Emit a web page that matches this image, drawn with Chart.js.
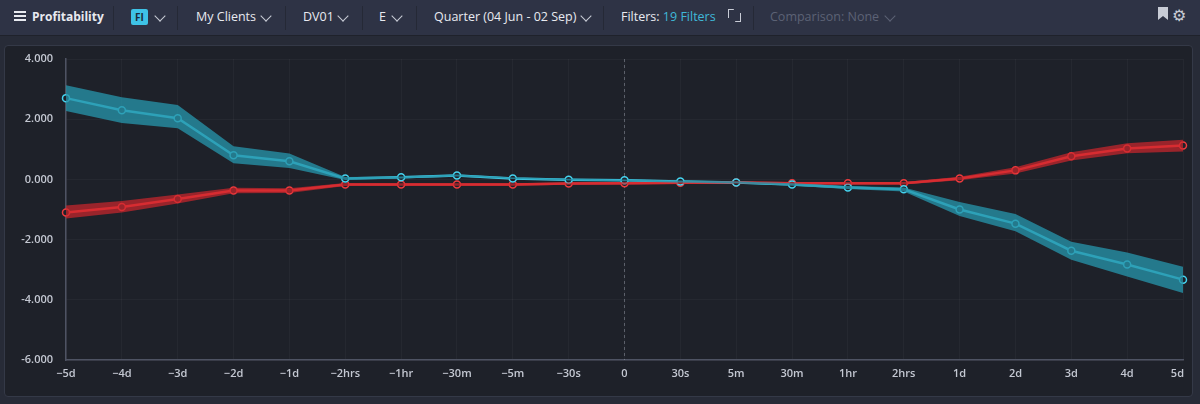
<!DOCTYPE html>
<html>
<head>
<meta charset="utf-8">
<script src="https://cdn.jsdelivr.net/npm/chart.js@4.4.1/dist/chart.umd.min.js"></script>
<style>
  html,body{margin:0;padding:0;width:1200px;height:404px;overflow:hidden;background:#272b37;font-family:"Open Sans","Noto Sans",sans-serif;}
  #bar{position:absolute;left:0;top:0;width:1200px;height:35px;background:#2e3345;border-bottom:1px solid #1f222b;}
  .it{position:absolute;top:0;height:35px;line-height:33px;font-size:12.5px;color:#e8eaf0;white-space:nowrap;}
  .sep{position:absolute;top:6px;width:1px;height:24px;background:#252936;}
  .chev{position:absolute;top:12px;width:7px;height:7px;border-right:1.5px solid #c8ccd6;border-bottom:1.5px solid #c8ccd6;transform:rotate(45deg);}
  .hb{position:absolute;left:14px;width:12px;height:2px;background:#e8eaf0;}
  #panel{position:absolute;left:4px;top:45px;width:1187px;height:350px;background:#1e2129;border:1px solid #343947;border-radius:4px;}
  #wrap{position:absolute;left:4px;top:45px;width:1189px;height:357px;}
</style>
</head>
<body>
<div id="bar">
  <div class="hb" style="top:11px"></div><div class="hb" style="top:15px"></div><div class="hb" style="top:19px"></div>
  <div class="it" style="left:32px;font-weight:bold;font-size:12px;">Profitability</div>
  <div class="sep" style="left:113px"></div>
  <div class="it" style="left:131px;top:9px;height:16px;line-height:16px;width:17px;background:#3ec3e6;color:#1b2a3a;font-weight:bold;font-size:10px;text-align:center;border-radius:2px;">FI</div>
  <div class="chev" style="left:156px"></div>
  <div class="sep" style="left:177px"></div>
  <div class="it" style="left:196px;">My Clients</div>
  <div class="chev" style="left:262px"></div>
  <div class="sep" style="left:285px"></div>
  <div class="it" style="left:303px;">DV01</div>
  <div class="chev" style="left:339px"></div>
  <div class="sep" style="left:362px"></div>
  <div class="it" style="left:379px;">E</div>
  <div class="chev" style="left:393px"></div>
  <div class="sep" style="left:416px"></div>
  <div class="it" style="left:434px;">Quarter (04 Jun - 02 Sep)</div>
  <div class="chev" style="left:582px"></div>
  <div class="sep" style="left:603px"></div>
  <div class="it" style="left:621px;">Filters: <span style="color:#3fb8d8">19 Filters</span></div>
  <div class="it" style="left:728px;top:9px;width:13px;height:13px;border:1.5px solid #c8ccd6;box-sizing:border-box;clip-path:polygon(0 0,45% 0,45% 30%,100% 30%,100% 100%,55% 100%,55% 70%,0 70%);"></div>
  <div class="sep" style="left:753px"></div>
  <div class="it" style="left:770px;color:#5c6275;">Comparison: None</div>
  <div class="chev" style="left:886px;border-color:#5c6275"></div>
  <div class="it" style="left:1158px;top:7px;width:10px;height:13px;background:#c8ccd6;clip-path:polygon(0 0,100% 0,100% 100%,50% 70%,0 100%);"></div>
  <div class="it" style="left:1172px;top:-1px;font-size:16px;color:#c8ccd6;">&#9881;</div>
</div>
<div id="panel"></div>
<div id="wrap"><canvas id="c"></canvas></div>
<script>
const categories = ["−5d","−4d","−3d","−2d","−1d","−2hrs","−1hr","−30m","−5m","−30s","0","30s","5m","30m","1hr","2hrs","1d","2d","3d","4d","5d"];
const cyanValues = [2.70,2.30,2.03,0.80,0.60,0.03,0.07,0.13,0.03,-0.01,-0.03,-0.07,-0.10,-0.17,-0.27,-0.33,-1.00,-1.47,-2.37,-2.83,-3.33];
const cyanUpper  = [3.13,2.73,2.47,1.10,0.86,0.08,0.10,0.16,0.06,0.02,0.00,-0.04,-0.07,-0.13,-0.22,-0.27,-0.75,-1.15,-2.07,-2.43,-2.90];
const cyanLower  = [2.27,1.87,1.70,0.54,0.38,-0.02,0.03,0.10,0.01,-0.04,-0.06,-0.10,-0.13,-0.21,-0.32,-0.40,-1.22,-1.72,-2.67,-3.23,-3.77];
const redValues  = [-1.10,-0.92,-0.65,-0.37,-0.37,-0.17,-0.17,-0.17,-0.17,-0.14,-0.13,-0.11,-0.10,-0.13,-0.13,-0.13,0.03,0.30,0.77,1.03,1.13];
const redUpper   = [-0.87,-0.72,-0.50,-0.28,-0.29,-0.12,-0.13,-0.13,-0.13,-0.10,-0.09,-0.07,-0.06,-0.09,-0.09,-0.09,0.09,0.40,0.90,1.20,1.32];
const redLower   = [-1.30,-1.10,-0.80,-0.46,-0.45,-0.22,-0.21,-0.21,-0.21,-0.18,-0.17,-0.15,-0.14,-0.17,-0.17,-0.17,-0.03,0.20,0.63,0.87,0.93];
const yTicks = [-6,-4,-2,0,2,4];

const CYAN = '#45d4f0', RED = '#ee3b3e';
const zeroLine = {
  id:'zeroLine',
  beforeDatasetsDraw(chart){
    const x = chart.scales.x.getPixelForValue(categories.indexOf('0'));
    const {top,bottom} = chart.chartArea;
    const ctx = chart.ctx;
    ctx.save();
    ctx.strokeStyle = 'rgba(160,166,180,0.45)';
    ctx.lineWidth = 1;
    ctx.setLineDash([3,3]);
    ctx.beginPath(); ctx.moveTo(x,top); ctx.lineTo(x,bottom); ctx.stroke();
    ctx.restore();
  }
};
// keep the last x label inside the panel (right-aligned to the axis end)
const lastLabel = {
  id:'lastLabel',
  beforeDraw(chart){
    const s = chart.scales.x;
    const items = s.getLabelItems(chart.chartArea);
    const last = items[items.length-1];
    if (last && !last._fixed){
      last.options.textAlign = 'right';
      last.options.translation = [chart.chartArea.right + 1, last.options.translation[1]];
      last._fixed = true;
    }
  }
};
const band = (data, color, fill) => ({data, borderWidth:0, pointRadius:0, backgroundColor:color, fill, tension:0});
new Chart(document.getElementById('c'), {
  type:'line',
  data:{
    labels: categories,
    datasets:[
      band(cyanUpper,'rgba(38,146,168,0.78)',false),
      band(cyanLower,'rgba(38,146,168,0.78)','-1'),
      band(redUpper,'rgba(205,38,44,0.7)',false),
      band(redLower,'rgba(205,38,44,0.7)','-1'),
      {data:cyanValues, borderColor:CYAN, borderWidth:2.5, pointRadius:3.5, pointBackgroundColor:'#1e2129', pointBorderColor:CYAN, pointBorderWidth:1.5, fill:false},
      {data:redValues, borderColor:RED, borderWidth:2.5, pointRadius:3.5, pointBackgroundColor:'#1e2129', pointBorderColor:RED, pointBorderWidth:1.5, fill:false}
    ]
  },
  options:{
    responsive:true, maintainAspectRatio:false, animation:false,
    layout:{padding:{top:14,right:10,bottom:0,left:0}},
    plugins:{legend:{display:false}, tooltip:{enabled:false}},
    scales:{
      x:{
        grid:{color:'rgba(255,255,255,0.035)', drawTicks:true, tickLength:7, tickColor:'rgba(0,0,0,0)'},
        border:{color:'#4e5363', width:1.5},
        ticks:{color:'#c4c8d2', font:{family:'Open Sans', size:11, weight:'600'}, padding:0, maxRotation:0, autoSkip:false},
        afterFit(s){ s.height = 42; }
      },
      y:{
        min:-6, max:4,
        afterBuildTicks(s){ s.ticks = yTicks.map(v=>({value:v})); },
        grid:{color:'rgba(255,255,255,0.035)', drawTicks:true, tickLength:12, tickColor:'rgba(0,0,0,0)'},
        border:{color:'#4e5363', width:1.5},
        ticks:{color:'#c4c8d2', font:{family:'Open Sans', size:11, weight:'600'}, padding:1,
          callback:v=>v.toFixed(3)},
        afterFit(s){ s.width = 62; }
      }
    }
  },
  plugins:[zeroLine, lastLabel]
});
</script>
</body>
</html>
